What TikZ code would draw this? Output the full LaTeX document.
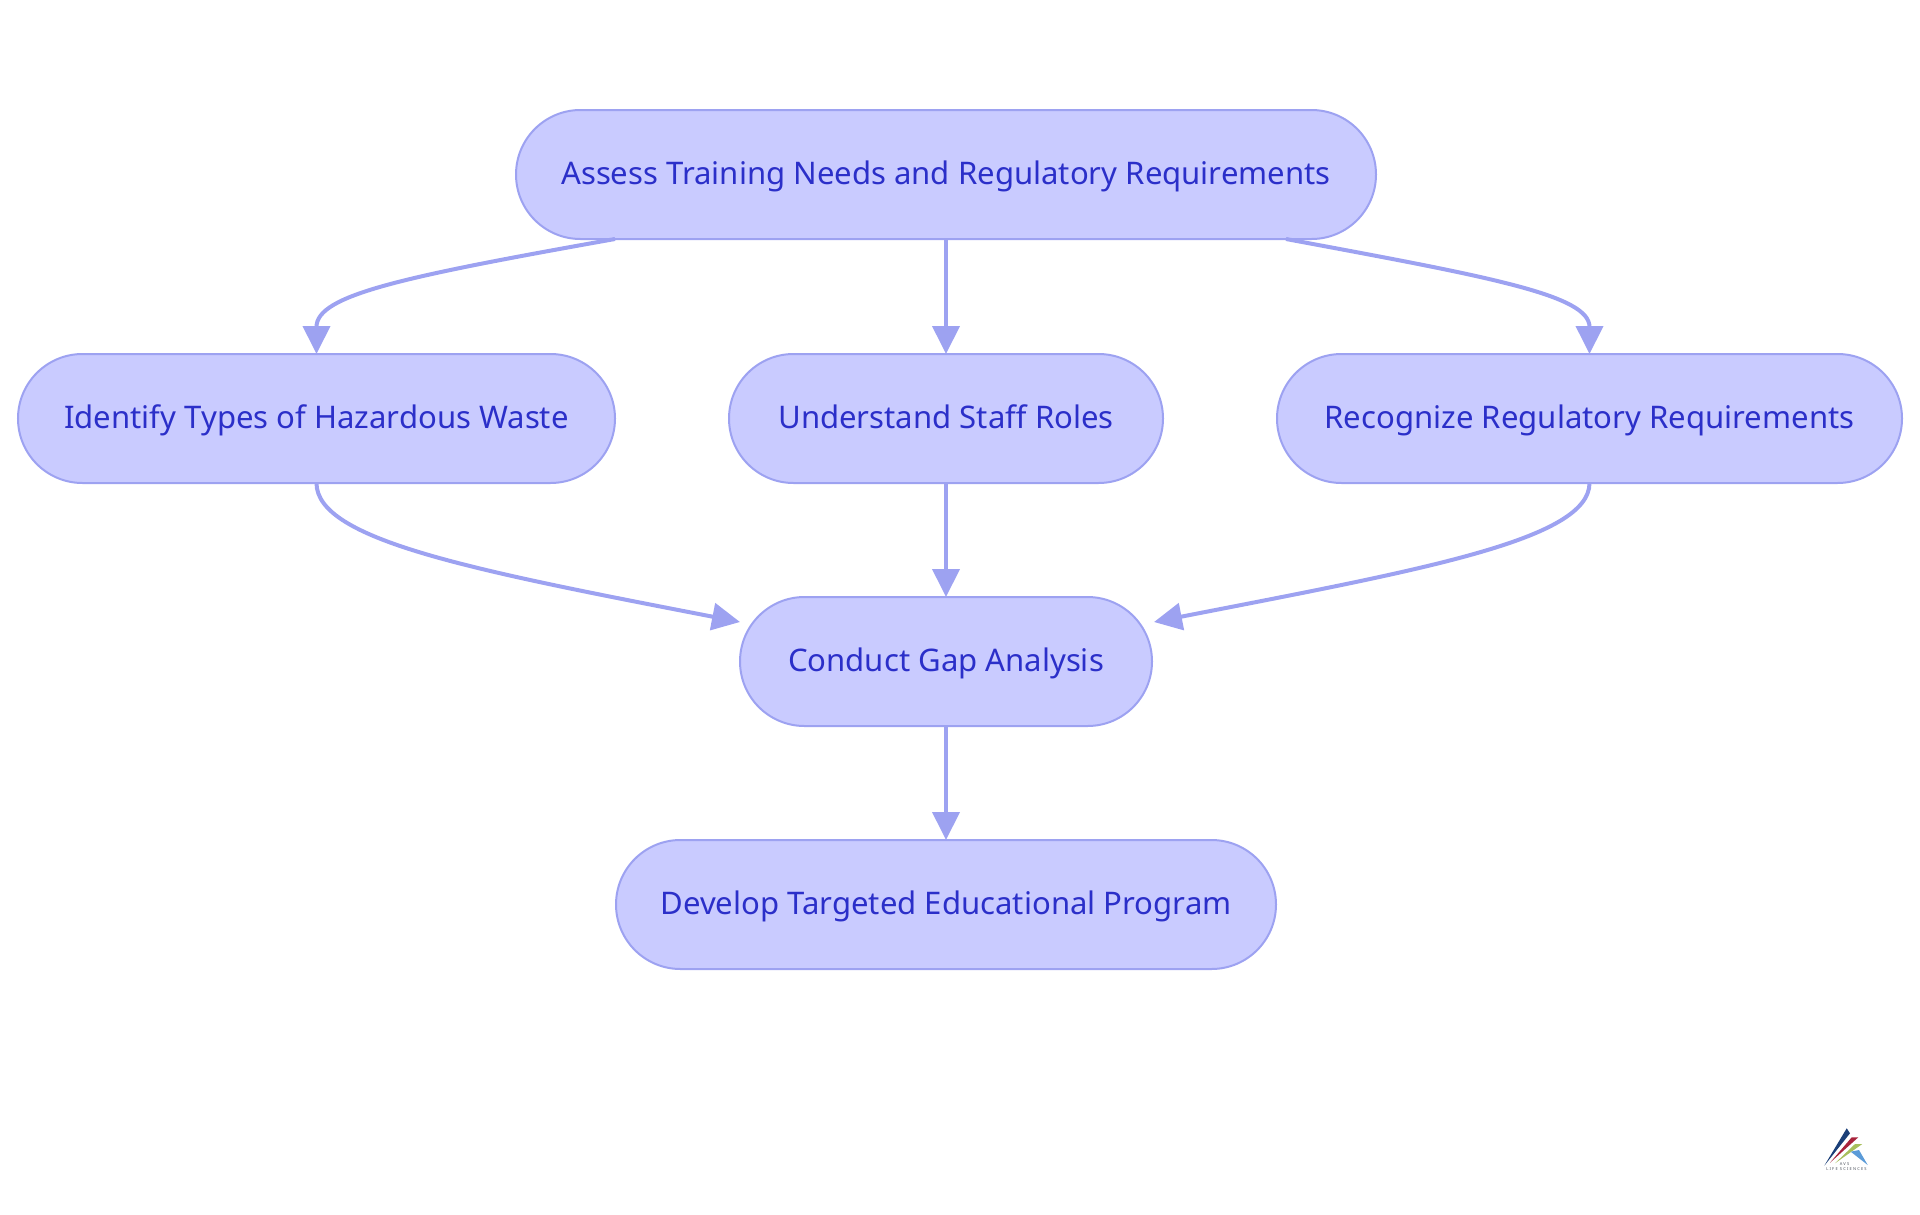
\documentclass[tikz,border=0pt]{standalone}
\usepackage{fontspec}
\setmainfont{Noto Sans}
\usetikzlibrary{arrows.meta,shapes.misc}
\definecolor{nodefill}{HTML}{C9CBFF}
\definecolor{nodeline}{HTML}{9DA2F1}
\definecolor{nodetext}{HTML}{2B2FC9}
\definecolor{logonavy}{HTML}{1B3F78}
\definecolor{logored}{HTML}{A8233C}
\definecolor{logogreen}{HTML}{A8BF5C}
\definecolor{logoblue}{HTML}{5B9BD8}
\definecolor{logotext}{HTML}{4A4F5A}
\tikzset{
  x=1pt,y=-1pt,
  flow/.style={draw=nodeline,fill=nodefill,line width=2pt,rounded rectangle,minimum height=129pt,inner sep=0pt,outer sep=0pt,text=nodetext,text height=30pt,text depth=10.6pt,font=\fontsize{31.1}{37}\selectfont},
  link/.style={draw=nodeline,line width=4pt,-{Triangle[length=28pt,width=27pt,color=nodeline]}},
  logotxt/.style={inner sep=0pt,outer sep=0pt,text=logotext,font=\fontsize{4}{5}\selectfont\bfseries\addfontfeatures{LetterSpace=30}},
}
\begin{document}
\begin{tikzpicture}
\useasboundingbox (0,0) rectangle (1920,1215);
\node[flow,minimum width=860pt] (a) at (946,174.5) {Assess Training Needs and Regulatory Requirements};
\node[flow,minimum width=597pt] (b) at (316.5,418.5) {Identify Types of Hazardous Waste};
\node[flow,minimum width=434pt] (c) at (946,418.5) {Understand Staff Roles};
\node[flow,minimum width=625pt] (d) at (1589.5,418.5) {Recognize Regulatory Requirements};
\node[flow,minimum width=412pt] (e) at (946,661.5) {Conduct Gap Analysis};
\node[flow,minimum width=660pt] (f) at (946,904.5) {Develop Targeted Educational Program};
\coordinate (p1) at (615,239);
\coordinate (p2) at (1286,239);
\coordinate (q1) at (740,622);
\coordinate (q2) at (1154,622);
\draw[link] (p1) .. controls (402,277) and (316.5,295) .. (b.north);
\draw[link] (a.south) -- (c.north);
\draw[link] (p2) .. controls (1490,277) and (1589.5,295) .. (d.north);
\draw[link] (b.south) .. controls (316.5,540) and (472,570) .. (q1);
\draw[link] (c.south) -- (e.north);
\draw[link] (d.south) .. controls (1589.5,540) and (1420,570) .. (q2);
\draw[link] (e.south) -- (f.north);
\fill[logonavy] (1846.7,1128.3) -- (1850,1133.3) -- (1824.3,1165.7) -- cycle;
\fill[logored] (1851.7,1137.3) -- (1858.3,1137.3) -- (1830,1162.7) -- cycle;
\fill[logogreen] (1855,1144) -- (1862.3,1144) -- (1835,1163.3) -- cycle;
\fill[logoblue] (1850.7,1151.7) -- (1859,1150) -- (1867.7,1165) -- cycle;
\node[logotxt] (logoa) at (1844.5,1164.2) {AVS};
\node[logotxt] (logob) at (1846.5,1169.2) {LIFE SCIENCES};
\end{tikzpicture}
\end{document}
